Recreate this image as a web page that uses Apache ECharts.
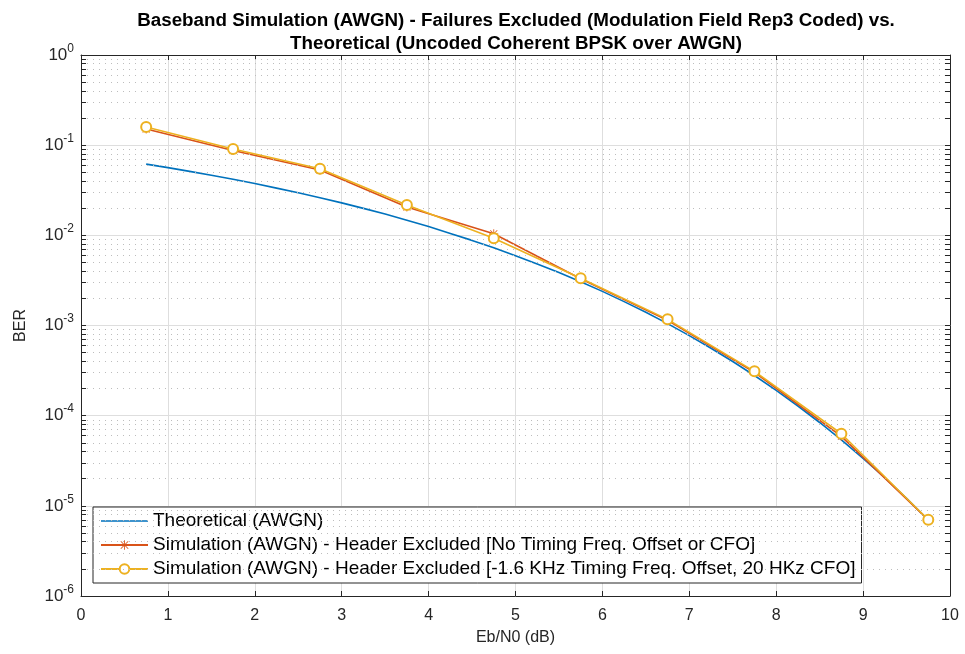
<!DOCTYPE html>
<html><head><meta charset="utf-8">
<script src="https://cdn.jsdelivr.net/npm/echarts@6/dist/echarts.min.js"></script>
<style>html,body{margin:0;padding:0;background:#fff}#c{width:965px;height:654px}</style>
</head><body><div id="c"></div>
<script>
// ---- data ----
const titleText = 'Baseband Simulation (AWGN) - Failures Excluded (Modulation Field Rep3 Coded) vs.\nTheoretical (Uncoded Coherent BPSK over AWGN)';
const xName = 'Eb/N0 (dB)';
const yName = 'BER';
const seriesNames = [
  'Theoretical (AWGN)',
  'Simulation (AWGN) - Header Excluded [No Timing Freq. Offset or CFO]',
  'Simulation (AWGN) - Header Excluded [-1.6 KHz Timing Freq. Offset, 20 HKz CFO]'
];
const theoryX = [0.75,1.0,1.25,1.5,1.75,2.0,2.25,2.5,2.75,3.0,3.25,3.5,3.75,4.0,4.25,4.5,4.75,5.0,5.25,5.5,5.75,6.0,6.25,6.5,6.75,7.0,7.25,7.5,7.75,8.0,8.25,8.5,8.75,9.0,9.25,9.5,9.75];
const theoryBER = [0.0616,0.0563,0.0512,0.0464,0.0418,0.0375,0.0334,0.0297,0.0261,0.0229,0.0199,0.0172,0.0147,0.0125,0.0105,0.00879,0.00727,0.00595,0.00482,0.00386,0.00306,0.00239,0.00184,0.00140,0.00105,0.000773,0.000560,0.000399,0.000279,0.000191,0.000128,0.0000840,0.0000538,0.0000336,0.0000205,0.0000121,0.00000697];
const simX = [0.75,1.75,2.75,3.75,4.75,5.75,6.75,7.75,8.75,9.75];
const simNoOffsetBER = [0.151,0.0874,0.0530,0.0206,0.0104,0.00330,0.00114,0.000303,0.0000590,0.0000070];
const simOffsetBER  = [0.159,0.0905,0.0548,0.0217,0.00930,0.00335,0.00117,0.000310,0.0000630,0.0000070];
const yTickExponents = [-6,-5,-4,-3,-2,-1,0];
const minorMultipliers = [2,3,4,5,6,7,8,9];

// ---- build ----
const FONT = '"Liberation Sans", Arial, Helvetica, sans-serif';
const AX = '#262626';
const zip = (xs, ys) => xs.map((x, i) => [x, ys[i]]);

const minorVals = [];
yTickExponents.slice(0, -1).forEach(e => minorMultipliers.forEach(m => minorVals.push(m * Math.pow(10, e))));
const tickLen = 0.058; // in x units (~5px)
const minorGrid = minorVals.map(v => [{coord: [0, v]}, {coord: [10, v]}]);
const minorTicks = [];
minorVals.forEach(v => {
  minorTicks.push([{coord: [0, v]}, {coord: [tickLen, v]}]);
  minorTicks.push([{coord: [10 - tickLen, v]}, {coord: [10, v]}]);
});

const asterisk = 'path://M9.1,0L10.9,0L10.9,20L9.1,20Z M0,9.1L20,9.1L20,10.9L0,10.9Z M1.6,2.8L2.8,1.6L18.4,17.2L17.2,18.4Z M17.2,1.6L18.4,2.8L2.8,18.4L1.6,17.2Z';
// plain line legend icon (tiny corner points keep the 47x12 box so the bar stays thin)
const lineIcon = 'path://M0,0L0.01,0L0,0.01Z M0,5.2L47,5.2L47,6.8L0,6.8Z M47,12L46.99,12L47,11.99Z';

const chart = echarts.init(document.getElementById('c'), null, {renderer: 'canvas'});
chart.setOption({
  backgroundColor: '#fff',
  animation: false,
  textStyle: {fontFamily: FONT},
  title: {
    text: titleText, left: 511, top: 4, textAlign: 'center',
    textStyle: {fontFamily: FONT, fontSize: 18.8, fontWeight: 'bold', color: '#000', lineHeight: 23}
  },
  grid: {left: 81, right: 15, top: 55, bottom: 58, containLabel: false},
  legend: {
    data: [
      {name: seriesNames[0], icon: lineIcon, itemStyle: {color: '#0072BD'}},
      {name: seriesNames[1]},
      {name: seriesNames[2]}
    ],
    orient: 'vertical', left: 93, top: 507,
    itemWidth: 47, itemHeight: 12, itemGap: 2, padding: [3, 6, 3, 7],
    backgroundColor: '#fff', borderColor: AX, borderWidth: 1, borderRadius: 0,
    textStyle: {fontFamily: FONT, fontSize: 19, color: '#000', lineHeight: 22},
    selectedMode: false
  },
  xAxis: [
    {type: 'value', min: 0, max: 10, interval: 1, position: 'bottom',
     name: xName, nameLocation: 'middle', nameGap: 34,
     nameTextStyle: {fontFamily: FONT, fontSize: 16, color: '#262626'},
     axisLine: {show: true, onZero: false, lineStyle: {color: AX, width: 1}},
     axisTick: {show: true, inside: true, length: 5, lineStyle: {color: AX}},
     axisLabel: {margin: 12, fontSize: 16, color: '#262626', fontFamily: FONT},
     splitLine: {show: true, lineStyle: {color: '#dedede', width: 1}}},
    {type: 'value', min: 0, max: 10, interval: 1, position: 'top',
     axisLine: {show: true, onZero: false, lineStyle: {color: AX, width: 1}},
     axisTick: {show: true, inside: true, length: 5, lineStyle: {color: AX}},
     axisLabel: {show: false}, splitLine: {show: false}}
  ],
  yAxis: [
    {type: 'log', logBase: 10, min: 1e-6, max: 1, interval: 1, position: 'left',
     name: yName, nameLocation: 'middle', nameGap: 52, nameRotate: 90,
     nameTextStyle: {fontFamily: FONT, fontSize: 16, color: '#262626'},
     axisLine: {show: true, onZero: false, lineStyle: {color: AX, width: 1}},
     axisTick: {show: true, inside: true, length: 5, lineStyle: {color: AX}},
     axisLabel: {
       margin: 7, color: '#262626', fontFamily: FONT,
       formatter: v => '{b|10}{s|' + Math.round(Math.log10(v)) + '}',
       rich: {
         b: {fontSize: 17, fontFamily: FONT, color: '#262626'},
         s: {fontSize: 12, fontFamily: FONT, color: '#262626', padding: [0, 0, 13, 0]}
       }
     },
     splitLine: {show: true, lineStyle: {color: '#dedede', width: 1}}},
    {type: 'log', logBase: 10, min: 1e-6, max: 1, interval: 1, position: 'right',
     axisLine: {show: true, onZero: false, lineStyle: {color: AX, width: 1}},
     axisTick: {show: true, inside: true, length: 5, lineStyle: {color: AX}},
     axisLabel: {show: false}, splitLine: {show: false}}
  ],
  series: [
    {name: '_minor', type: 'line', data: [], silent: true, z: 1,
     markLine: {silent: true, symbol: ['none', 'none'], label: {show: false}, animation: false,
       data: minorGrid, lineStyle: {color: '#bdbdbd', width: 1, type: [1, 5]}}},
    {name: '_minorTicks', type: 'line', data: [], silent: true, z: 6,
     markLine: {silent: true, symbol: ['none', 'none'], label: {show: false}, animation: false,
       data: minorTicks, lineStyle: {color: AX, width: 1, type: 'solid'}}},
    {name: seriesNames[0], type: 'line', data: zip(theoryX, theoryBER), showSymbol: false, symbol: 'none',
     smooth: false, z: 3, lineStyle: {color: '#0072BD', width: 1.6}, itemStyle: {color: '#0072BD'}},
    {name: seriesNames[1], type: 'line', data: zip(simX, simNoOffsetBER), symbol: asterisk, symbolSize: 9,
     z: 4, lineStyle: {color: '#D95319', width: 1.6}, itemStyle: {color: '#D95319'}},
    {name: seriesNames[2], type: 'line', data: zip(simX, simOffsetBER), symbol: 'emptyCircle', symbolSize: 10,
     z: 5, lineStyle: {color: '#EDB120', width: 1.6}, itemStyle: {color: '#EDB120', borderColor: '#EDB120', borderWidth: 1.3}}
  ]
});
</script></body></html>
